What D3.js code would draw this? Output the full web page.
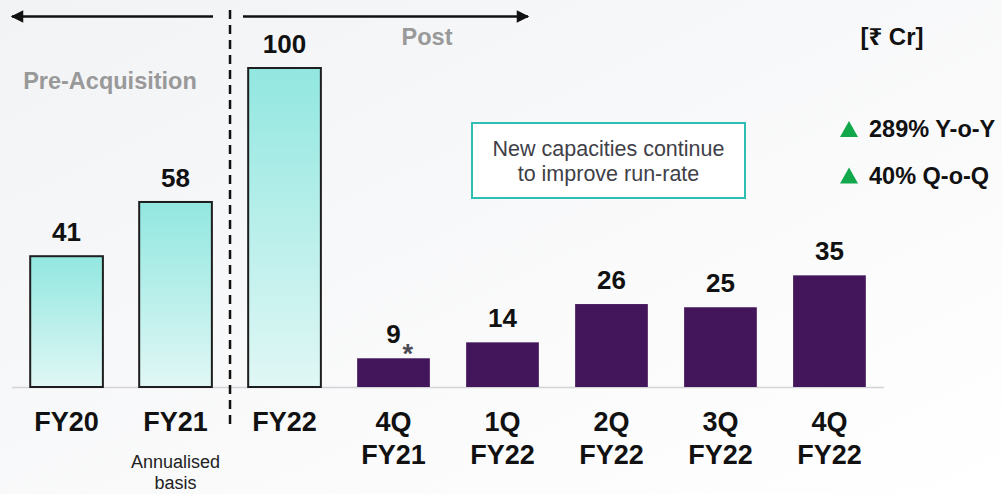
<!DOCTYPE html>
<html><head><meta charset="utf-8">
<script src="https://cdn.jsdelivr.net/npm/d3@7"></script>
<style>
html,body{margin:0;padding:0;}
body{width:1002px;height:494px;overflow:hidden;}
text{font-family:"Liberation Sans",Arial,"Noto Sans",sans-serif;}
</style></head>
<body>
<svg id="chart" width="1002" height="494"></svg>
<script>
const categories = [["FY20"],["FY21"],["FY22"],["4Q","FY21"],["1Q","FY22"],["2Q","FY22"],["3Q","FY22"],["4Q","FY22"]];
const values = [41, 58, 100, 9, 14, 26, 25, 35];
const barTypes = ["annual","annual","annual","quarter","quarter","quarter","quarter","quarter"];
const notes = ["", "", "", "*", "", "", "", ""];
const growthLabels = ["289% Y-o-Y", "40% Q-o-Q"];
const boxLines = ["New capacities continue", "to improve run-rate"];
const subNote = ["Annualised", "basis"];

const svg = d3.select("#chart");
const W = 1002, H = 494;
const defs = svg.append("defs");

const bg = defs.append("linearGradient").attr("id","bg").attr("x1","0").attr("y1","0").attr("x2","1").attr("y2","1");
bg.append("stop").attr("offset","0").attr("stop-color","#f2f3f5");
bg.append("stop").attr("offset","1").attr("stop-color","#ffffff");
svg.append("rect").attr("width",W).attr("height",H).attr("fill","url(#bg)");

const tg = defs.append("linearGradient").attr("id","teal").attr("x1","0").attr("y1","0").attr("x2","0").attr("y2","1");
tg.append("stop").attr("offset","0").attr("stop-color","#92e7e0");
tg.append("stop").attr("offset","1").attr("stop-color","#e0f7f5");

const idx = categories.map((d,i)=>i);
const x = d3.scaleBand().domain(idx).range([12, 884]).paddingInner(0.333).paddingOuter(0.167);
const y = d3.scaleLinear().domain([0, 100]).range([387, 68]);

// baseline
svg.append("line").attr("x1",12).attr("x2",884).attr("y1",y(0)+0.5).attr("y2",y(0)+0.5)
  .attr("stroke","#d4d4d6").attr("stroke-width",1.5);

// bars
svg.selectAll("rect.bar").data(values).join("rect").attr("class","bar")
  .attr("x",(d,i)=>x(i)).attr("width",x.bandwidth())
  .attr("y",d=>y(d)).attr("height",d=>y(0)-y(d))
  .attr("fill",(d,i)=>barTypes[i]==="annual"?"url(#teal)":"#43155a")
  .attr("stroke",(d,i)=>barTypes[i]==="annual"?"#1e1e1e":"none")
  .attr("stroke-width",2);

// value labels
svg.selectAll("text.val").data(values).join("text").attr("class","val")
  .attr("x",(d,i)=>x(i)+x.bandwidth()/2)
  .attr("y",d=>y(d)-15)
  .attr("text-anchor","middle")
  .attr("font-size",26).attr("font-weight","bold").attr("fill","#111")
  .text(d=>d);
values.forEach((d,i)=>{
  if(notes[i]){
    svg.append("text").attr("x",x(i)+x.bandwidth()/2+9).attr("y",y(d)+5)
      .attr("font-size",27).attr("font-weight","bold").attr("fill","#4a4a55").text(notes[i]);
  }
});

// category labels
categories.forEach((lines,i)=>{
  const t = svg.append("text").attr("text-anchor","middle")
    .attr("font-size",27).attr("font-weight","bold").attr("fill","#111");
  lines.forEach((l,j)=>{
    t.append("tspan").attr("x",x(i)+x.bandwidth()/2).attr("y",431+j*33).text(l);
  });
});

// annualised note
const an = svg.append("text").attr("text-anchor","middle").attr("font-size",18).attr("fill","#222");
subNote.forEach((l,j)=>an.append("tspan").attr("x",x(1)+x.bandwidth()/2).attr("y",468+j*21).text(l));

// dashed divider
const divX = (x(1)+x.bandwidth()+x(2))/2;
svg.append("line").attr("x1",divX).attr("x2",divX).attr("y1",10).attr("y2",425)
  .attr("stroke","#111").attr("stroke-width",2.5).attr("stroke-dasharray","9,6");

// arrows
defs.append("marker").attr("id","ah").attr("viewBox","0 0 10 10").attr("refX",9).attr("refY",5)
  .attr("markerWidth",6).attr("markerHeight",5).attr("markerUnits","strokeWidth").attr("orient","auto-start-reverse")
  .append("path").attr("d","M0,0 L10,5 L0,10 Z").attr("fill","#111");
svg.append("line").attr("x1",213).attr("x2",12).attr("y1",16.5).attr("y2",16.5)
  .attr("stroke","#111").attr("stroke-width",2.5).attr("marker-end","url(#ah)");
svg.append("line").attr("x1",243).attr("x2",528).attr("y1",16.5).attr("y2",16.5)
  .attr("stroke","#111").attr("stroke-width",2.5).attr("marker-end","url(#ah)");

svg.append("text").attr("x",110).attr("y",89).attr("text-anchor","middle")
  .attr("font-size",23.5).attr("font-weight","bold").attr("fill","#999").text("Pre-Acquisition");
svg.append("text").attr("x",427).attr("y",45).attr("text-anchor","middle")
  .attr("font-size",23.5).attr("font-weight","bold").attr("fill","#999").text("Post");

// unit
svg.append("text").attr("x",892).attr("y",45).attr("text-anchor","middle")
  .attr("font-size",24).attr("font-weight","bold").attr("fill","#111").text("[₹ Cr]");

// box
svg.append("rect").attr("x",472).attr("y",123).attr("width",273).attr("height",75)
  .attr("fill","#ffffff").attr("stroke","#2fbfb2").attr("stroke-width",2);
const bt = svg.append("text").attr("text-anchor","middle").attr("font-size",21.5).attr("fill","#404048");
boxLines.forEach((l,j)=>bt.append("tspan").attr("x",608.5).attr("y",155.5+j*25).text(l));

// growth
growthLabels.forEach((l,j)=>{
  const cy = 129 + j*46.5;
  svg.append("path").attr("d",`M840,${cy+8} L858,${cy+8} L849,${cy-8} Z`).attr("fill","#10a84a");
  svg.append("text").attr("x",869).attr("y",cy+8).attr("font-size",23.5).attr("font-weight","bold")
    .attr("fill","#111").text(l);
});
</script>
</body></html>
